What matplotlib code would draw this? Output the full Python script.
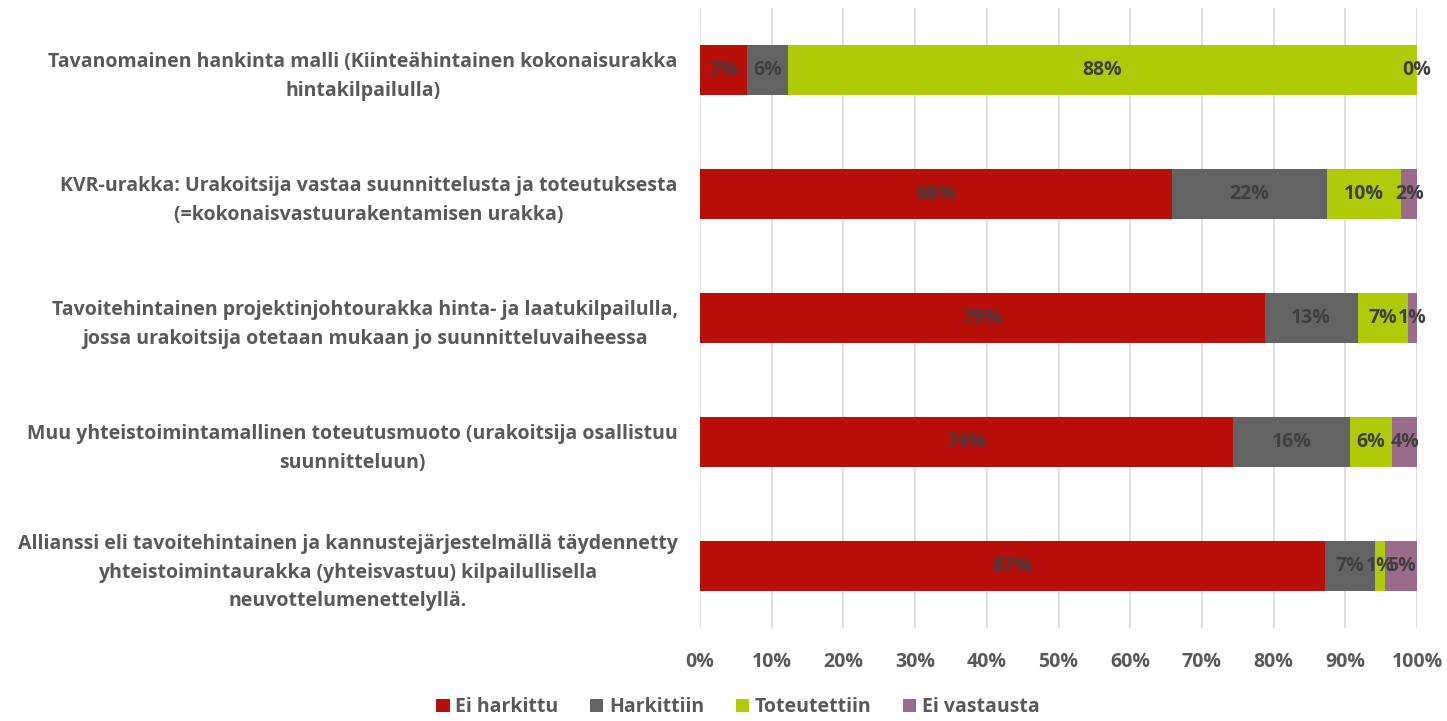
import numpy as np
import matplotlib
matplotlib.use("Agg")
import matplotlib.pyplot as plt

categories = [
    "Tavanomainen hankinta malli (Kiinteähintainen kokonaisurakka\nhintakilpailulla)",
    "KVR-urakka: Urakoitsija vastaa suunnittelusta ja toteutuksesta\n(=kokonaisvastuurakentamisen urakka)",
    "Tavoitehintainen projektinjohtourakka hinta- ja laatukilpailulla,\njossa urakoitsija otetaan mukaan jo suunnitteluvaiheessa",
    "Muu yhteistoimintamallinen toteutusmuoto (urakoitsija osallistuu\nsuunnitteluun)",
    "Allianssi eli tavoitehintainen ja kannustejärjestelmällä täydennetty\nyhteistoimintaurakka (yhteisvastuu) kilpailullisella\nneuvottelumenettelyllä.",
]
series = ["Ei harkittu", "Harkittiin", "Toteutettiin", "Ei vastausta"]
ei_harkittu = [6.6, 65.8, 78.8, 74.4, 87.2]
harkittiin = [5.6, 21.6, 12.9, 16.3, 7.0]
toteutettiin = [87.8, 10.4, 7.1, 5.8, 1.3]
ei_vastausta = [0.0, 2.2, 1.2, 3.6, 4.6]
colors = ["#B80F0A", "#636363", "#AFCB07", "#9A6B8A"]

plt.rcParams['font.family'] = ['Open Sans', 'DejaVu Sans']
fig = plt.figure(figsize=(14.47, 7.21), dpi=100)
ax = fig.add_axes([0.4838, 0.129, 0.4955, 0.860])

y = np.arange(len(categories))
data = [ei_harkittu, harkittiin, toteutettiin, ei_vastausta]
left = np.zeros(len(categories))
for vals, name, col in zip(data, series, colors):
    vals = np.array(vals)
    ax.barh(y, vals, left=left, height=0.4, color=col, label=name, zorder=2)
    for yi, l, v in zip(y, left, vals):
        ax.text(l + v / 2, yi, f"{v:.0f}%", ha="center", va="center",
                fontsize=14, fontweight="bold", color="#404040", zorder=3)
    left = left + vals

ax.set_xlim(0, 100)
ax.set_ylim(len(categories) - 0.5, -0.5)
ax.set_xticks(np.arange(0, 101, 10))
ax.set_xticklabels([f"{t}%" for t in range(0, 101, 10)])
ax.tick_params(axis="x", length=0, pad=17, labelsize=14, labelcolor="#595959")
for lab in ax.get_xticklabels():
    lab.set_fontweight("bold")
ax.set_yticks(y)
ax.set_yticklabels(categories, multialignment="center", linespacing=1.55)
ax.tick_params(axis="y", length=0, pad=16, labelsize=14, labelcolor="#595959")
for lab in ax.get_yticklabels():
    lab.set_fontweight("bold")
ax.grid(axis="x", color="#D9D9D9", linewidth=1.2, zorder=0)
for s in ax.spines.values():
    s.set_visible(False)

leg = fig.legend(loc="lower center", bbox_to_anchor=(0.51, -0.019), ncol=4,
                 frameon=False, fontsize=14, handlelength=0.7, handleheight=0.7,
                 columnspacing=1.6, handletextpad=0.3)
for t in leg.get_texts():
    t.set_fontweight("bold")
    t.set_color("#595959")

fig.savefig("out.png", dpi=100)
